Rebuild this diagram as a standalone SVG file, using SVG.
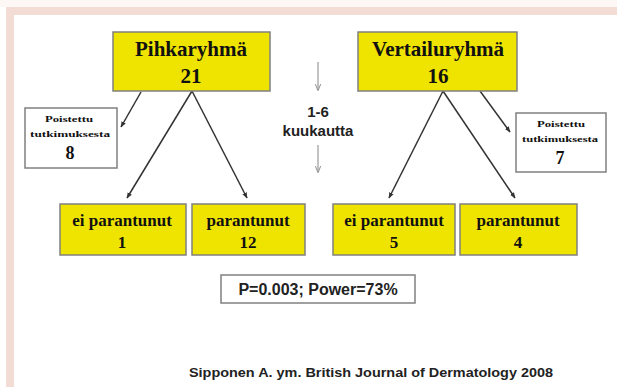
<svg xmlns="http://www.w3.org/2000/svg" width="617" height="387" viewBox="0 0 617 387">
<defs>
<style>
.yb{fill:#efe300;stroke:#808080;stroke-width:1.5}
.wb{fill:#ffffff;stroke:#808080;stroke-width:1.5}
.big{font-family:"Liberation Serif","Times New Roman",serif;font-weight:bold;font-size:21px;fill:#111;text-anchor:middle}
.mid{font-family:"Liberation Serif","Times New Roman",serif;font-weight:bold;font-size:17px;fill:#111;text-anchor:middle}
.sm{font-family:"Liberation Serif","Times New Roman",serif;font-weight:bold;font-size:9px;fill:#111;text-anchor:middle}
.num{font-family:"Liberation Serif","Times New Roman",serif;font-weight:bold;font-size:18px;fill:#111;text-anchor:middle}
.sans{font-family:"Liberation Sans",Arial,sans-serif;font-weight:bold;fill:#222;text-anchor:middle}
.ln{stroke:#333;stroke-width:1.5;fill:none}
.gl{stroke:#999;stroke-width:1.2;fill:none}
</style>
<marker id="ah" viewBox="0 0 10 10" refX="9" refY="5" markerWidth="6" markerHeight="6" markerUnits="userSpaceOnUse" orient="auto">
<path d="M0,1 L10,5 L0,9 z" fill="#333"/>
</marker>
<marker id="ahg" viewBox="0 0 10 10" refX="9" refY="5" markerWidth="7" markerHeight="7" markerUnits="userSpaceOnUse" orient="auto">
<path d="M0,1 L10,5 L0,9" fill="none" stroke="#999" stroke-width="1.5"/>
</marker>
</defs>
<rect x="0" y="0" width="617" height="387" fill="#ffffff"/>
<rect x="0" y="0" width="617" height="7" fill="#fdf8f6"/>
<rect x="6" y="7" width="611" height="8" fill="#f2dcd3"/>
<rect x="6" y="7" width="8" height="380" fill="#f2dcd3"/>

<g id="connectors">
<line class="ln" x1="192" y1="91" x2="127" y2="198" marker-end="url(#ah)"/>
<line class="ln" x1="192" y1="91" x2="247" y2="198" marker-end="url(#ah)"/>
<line class="ln" x1="141" y1="92" x2="121" y2="127" marker-end="url(#ah)"/>
<line class="ln" x1="443" y1="91" x2="389" y2="198" marker-end="url(#ah)"/>
<line class="ln" x1="443" y1="91" x2="515" y2="198" marker-end="url(#ah)"/>
<line class="ln" x1="480" y1="91" x2="510" y2="132" marker-end="url(#ah)"/>
<line class="gl" x1="318" y1="62" x2="318" y2="90" marker-end="url(#ahg)"/>
<line class="gl" x1="318" y1="145" x2="318" y2="172" marker-end="url(#ahg)"/>
</g>

<g id="pihkaryhma">
<rect class="yb" x="113" y="32" width="157" height="59"/>
<text class="big" x="191" y="56">Pihkaryhmä</text>
<text class="big" x="191" y="83">21</text>
</g>
<g id="vertailuryhma">
<rect class="yb" x="358" y="32" width="159" height="59"/>
<text class="big" x="438" y="56">Vertailuryhmä</text>
<text class="big" x="438" y="83">16</text>
</g>
<g id="interval">
<text class="sans" x="318" y="117" font-size="15">1-6</text>
<text class="sans" x="318" y="136" font-size="15">kuukautta</text>
</g>
<g id="poistettu-left">
<rect class="wb" x="25" y="108" width="92" height="60"/>
<text class="sm" x="69" y="122" textLength="48" lengthAdjust="spacingAndGlyphs">Poistettu</text>
<text class="sm" x="70" y="137" textLength="80" lengthAdjust="spacingAndGlyphs">tutkimuksesta</text>
<text class="num" x="70" y="159">8</text>
</g>
<g id="poistettu-right">
<rect class="wb" x="516" y="113" width="90" height="59"/>
<text class="sm" x="561" y="127" textLength="48" lengthAdjust="spacingAndGlyphs">Poistettu</text>
<text class="sm" x="560" y="142" textLength="76" lengthAdjust="spacingAndGlyphs">tutkimuksesta</text>
<text class="num" x="560" y="164">7</text>
</g>
<g id="pihka-ei">
<rect class="yb" x="60" y="204" width="126" height="51"/>
<text class="mid" x="122" y="226">ei parantunut</text>
<text class="mid" x="122" y="248">1</text>
</g>
<g id="pihka-par">
<rect class="yb" x="192" y="204" width="113" height="51"/>
<text class="mid" x="248" y="226">parantunut</text>
<text class="mid" x="248" y="248">12</text>
</g>
<g id="vert-ei">
<rect class="yb" x="333" y="204" width="122" height="51"/>
<text class="mid" x="394" y="226">ei parantunut</text>
<text class="mid" x="394" y="248">5</text>
</g>
<g id="vert-par">
<rect class="yb" x="460" y="204" width="117" height="51"/>
<text class="mid" x="518" y="226">parantunut</text>
<text class="mid" x="518" y="248">4</text>
</g>
<g id="pvalue">
<rect class="wb" x="221" y="275" width="194" height="28"/>
<text class="sans" x="318" y="295" font-size="16">P=0.003; Power=73%</text>
</g>
<text class="sans" x="371" y="377" font-size="13" textLength="364" lengthAdjust="spacingAndGlyphs">Sipponen A. ym.  British Journal of Dermatology 2008</text>
</svg>
